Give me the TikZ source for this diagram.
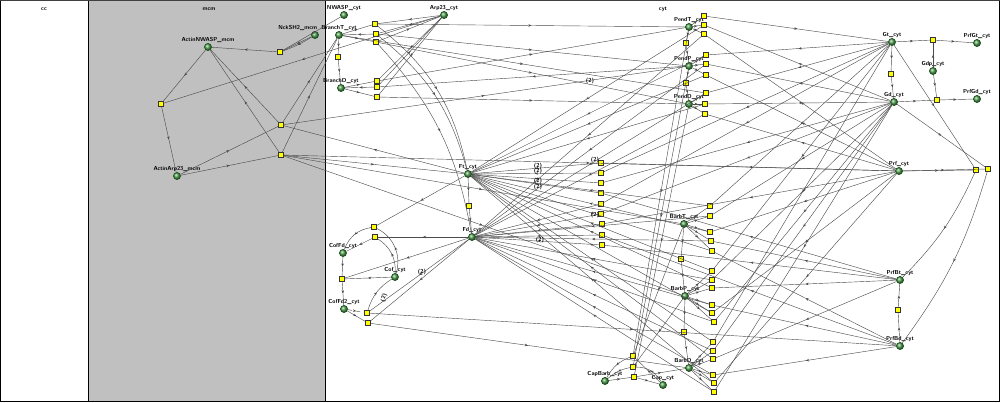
\documentclass[tikz,border=0pt]{standalone}
\usetikzlibrary{arrows.meta,decorations.markings}
\definecolor{mcmgray}{RGB}{192,192,192}
\definecolor{spball}{RGB}{80,160,80}
\definecolor{spline}{RGB}{25,80,25}
\definecolor{rxyel}{RGB}{255,255,0}
\definecolor{edgec}{RGB}{75,75,75}
\tikzset{
 sp/.style={circle,minimum size=0.18cm,inner sep=0pt,draw=spline,line width=0.4pt,shading=ball,ball color=spball},
 rx/.style={rectangle,minimum size=0.125cm,inner sep=0pt,fill=rxyel,draw=black!80,line width=0.3pt},
 lbl/.style={font=\fontsize{4.1}{4.5}\selectfont\sffamily\bfseries,inner sep=0.3pt,text=black},
 ln/.style={draw=edgec,line width=0.3pt,postaction={decorate},decoration={markings,mark=at position 0.5 with {\arrow{Stealth[length=2.2pt,width=1.8pt]}}}},
 comp/.style={draw=black,line width=0.5pt}
}
\begin{document}
\begin{tikzpicture}[x=0.025cm,y=-0.025cm]
\useasboundingbox (0,0) rectangle (1000,402);
\fill[white] (0,0) rectangle (1000,402);
\fill[mcmgray] (88,0) rectangle (325,402);
\draw[comp] (0.3,0.5) rectangle (88,401.7);
\draw[comp] (88,0.5) rectangle (325,401.7);
\draw[comp] (325,0.5) rectangle (999.7,401.7);
\draw[black!75,line width=1.2pt] (0,0.6) -- (1000,0.6);
\node[lbl] (ccl) at (44,9) {cc};
\node[lbl] (mcml) at (209,9) {mcm};
\node[lbl] (cytl) at (663,9) {cyt};
% species
\foreach \n/\x/\y/\lab in {
 AN/208/47/ActinNWASP\_mcm, AA/177/176/ActinArp23\_mcm,
 NW/344/15/NWASP\_cyt, BT/339/35/BranchT\_cyt, BD/341/88/BranchD\_cyt, AR/444/15/Arp23\_cyt,
 PT/689/27/PendT\_cyt, PP/689/66/PendP\_cyt, PD/689/104/PendD\_cyt,
 GT/892/42/Gt\_cyt, GD/894/102/Gd\_cyt, GP/933/71/Gdp\_cyt, RGT/977/43/PrfGt\_cyt, RGD/977/99/PrfGd\_cyt,
 PR/899/171/Prf\_cyt, PBT/900/280/PrfBt\_cyt, PBD/900/346/PrfBd\_cyt,
 FT/468/174/Ft\_cyt, FD/472/237/Fd\_cyt,
 CF/343/253/CofFd\_cyt, CO/395/277/Cof\_cyt, CF2/344/309/CofFd2\_cyt,
 BBT/684/224/BarbT\_cyt, BBP/685/296/BarbP\_cyt, BBD/689/368/BarbD\_cyt,
 CB/605/381/CapBarb\_cyt, CA/663/385/Cap\_cyt}
 \node[sp,label={[lbl]above:\lab}] (\n) at (\x,\y) {};
\node[sp,label={[lbl,anchor=south east,xshift=2pt]north:NckSH2\_mcm}] (NS) at (315,35) {};
% reactions
\foreach \n/\x/\y in {
 m1/280/52, m2/161/104, m3/281/125, m4/281/155,
 a1/375/24, a2/376/34, a3/376/42, a4/338/57, a5/377/81, a6/377/87, a7/377/97,
 p1/704/16, p2/704/25, p3/704/34, p4/686/43, p5/706/55, p6/706/64, p7/706/75, p8/686/83, p9/706/93, p10/705/104, p11/705/114,
 g1/933/40, g2/937/100, g3/891/74, h1/976/170, h2/988/169, h3/898/310,
 f1/469/206,
 c1/601/163, c2/601/173, c3/601/183, c4/601/193, c5/601/204, c6/601/214, c7/602/224, c8/602/235, c9/602/245,
 q1/681/259, q2/684/332,
 b1/710/206, b2/710/216, b3/710/232, b4/711/241, b5/712/251, b6/712/271, b7/712/280, b8/712/288, b9/712/305,
 b10/712/313, b11/714/322, b12/713/342, b13/713/351, b14/713/359, b15/713/375, b16/714/383, b17/714/392,
 k1/633/356, k2/633/367, k3/634/377,
 o1/374/227, o2/375/237, o3/342/279, o4/367/313, o5/368/323}
 \node[rx] (\n) at (\x,\y) {};
% straight connectors
\foreach \u/\v in {
 NS/m1, NW/m1, m1/AN, AN/m2, AR/m2, m2/AA,
 AA/m3, m3/AN, m3/BT, m3/PP, FT/m3,
 AA/m4, m4/AN, m4/BT, m4/PR, m4/FT, m4/BBT, m4/BBP,
 BT/a1, AR/a1, a1/PT, a2/BT, AR/a2, a2/PP, BT/a3, a3/AR, a3/PD, BT/a4, a4/BD,
 BD/a5, AR/a5, a5/PT, a6/BD, a6/AR, PP/a6, BD/a7, AR/a7, a7/PD, BT/p9,
 PT/p1, p1/GT, PT/p2, GD/p2, p2/FT, PT/p3, PR/p3, p3/FD, PT/p4, p4/PP,
 PP/p5, GT/p5, p5/FT, PP/p6, GD/p6, p6/FD, PP/p7, PR/p7, p7/FT, PP/p8, p8/PD,
 PD/p9, GT/p9, p9/FD, PD/p10, GD/p10, p10/FT, PD/p11, PR/p11, p11/FD,
 GT/g1, GP/g1, g1/RGT, GP/g2, GD/g2, g2/RGD, GT/g3, g3/GD,
 PR/h1, GT/h1, PR/h2, GD/h2, PBD/h3, h3/PBT,
 FT/f1, f1/FD,
 PR/c1, c1/FT, GT/c2, c2/FT, GD/c3, c3/FT, PBT/c4, c4/FT,
 GT/c5, c5/FD, GD/c6, c6/FD, PR/c7, c7/FD, PBD/c8, c8/FD, PBT/c9, c9/FD,
 BBT/q1, q1/BBP, BBP/q2, q2/BBD,
 BBT/b1, GT/b1, b1/FT, BBT/b2, GD/b2, b2/FD, BBT/b3, PR/b3, b3/FT,
 BBT/b4, PBT/b4, b4/FD, BBT/b5, PBD/b5, b5/FT,
 BBP/b6, GT/b6, b6/FT, BBP/b7, GD/b7, b7/FD, BBP/b8, PBT/b8, b8/FT,
 BBP/b9, PBD/b9, b9/FD, BBP/b10, PR/b10, b10/FT, BBP/b11, GD/b11, b11/FD,
 BBD/b12, GT/b12, b12/FT, BBD/b13, GD/b13, b13/FD, BBD/b14, PBT/b14, b14/FT,
 BBD/b15, PBD/b15, b15/FD, BBD/b16, PR/b16, b16/FT, BBD/b17, GD/b17, b17/FD,
 CB/k3, k3/CA, k3/BBD, BBT/k1, CA/k1, PT/k1, BBP/k2, PP/k2, PD/k3,
 FT/o1, FD/o2, o2/CF, CF/o3, CO/o3, FD/o3, o3/CF2,
 FD/o4, o4/PBD, CF2/o5, FD/o5, o5/BBD}
 \draw[ln] (\u) -- (\v);
% curved and dashed connectors
\draw[ln] (NS) to[bend left=6] (m1);
\draw[ln] (a1) to[bend left=20] (FT);
\draw[ln] (a2) to[bend left=18] (FT);
\draw[ln] (a3) to[bend left=16] (FD);
\draw[ln] (CO) to[bend right=40] (o1);
\draw[ln] (o1) to[bend right=30] (CF);
\draw[ln] (CO) to[bend right=30] (o2);
\draw[ln] (o4) to[bend left=20] (CO);
\draw[ln,dashed] (CF2) -- (o4);
\draw[ln] (k1) to[bend right=20] (CB);
\draw[ln] (k2) to[bend right=15] (CB);
\draw[ln] (CA) to[bend right=30] (k2);
\draw[ln] (h1) to[bend left=10] (PBT);
\draw[ln] (h2) to[bend left=10] (PBD);
% stoichiometry labels
\node[lbl] (t1) at (595,160) {(2)};
\node[lbl] (t2) at (538,166) {(2)};
\node[lbl] (t3) at (538,171) {(2)};
\node[lbl] (t4) at (538,181) {(2)};
\node[lbl] (t5) at (538,187) {(2)};
\node[lbl] (t6) at (595,215) {(2)};
\node[lbl] (t7) at (540,240) {(2)};
\node[lbl] (t8) at (590,81) {(2)};
\node[lbl] (t9) at (422,272) {(2)};
\node[lbl,rotate=75] (t10) at (384,298) {(2)};
\end{tikzpicture}
\end{document}
